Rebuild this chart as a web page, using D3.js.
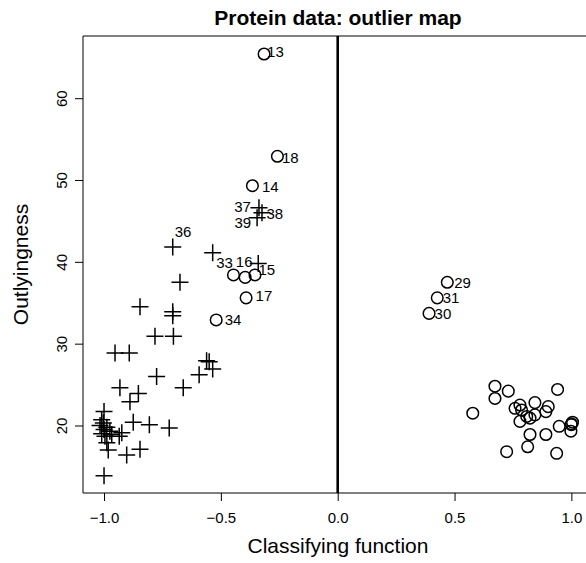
<!DOCTYPE html>
<html>
<head>
<meta charset="utf-8">
<script src="https://cdn.jsdelivr.net/npm/d3@7"></script>
<style>
  body { margin: 0; background: #fff; }
  svg text { font-family: "Liberation Sans", Arial, Helvetica, sans-serif; fill: #000; }
</style>
</head>
<body>
<div id="chart"></div>
<script>
// crosses (group 1)
var crossX = [-0.846, -0.706, -0.706, -0.782, -0.703, -0.675, -0.706, -0.535, -0.340,
              -0.337, -0.324, -0.345,
              -0.953, -0.892, -0.561, -0.550, -0.535, -0.593, -0.661, -0.775, -0.932,
              -0.853, -0.889, -0.875, -0.806, -0.721, -0.924, -0.935, -0.846, -0.903,
              -0.982, -1.000, -1.000, -1.010, -1.003, -1.017, -0.988, -1.000, -0.975,
              -1.010, -0.996, -0.988, -0.967];
var crossY = [34.5, 33.9, 33.4, 30.9, 30.9, 37.5, 41.8, 41.1, 39.8,
              46.6, 46.0, 45.4,
              28.85, 28.85, 27.9, 27.8, 26.9, 26.2, 24.6, 26.0, 24.6,
              23.9, 22.9, 20.4, 20.1, 19.7, 19.1, 18.7, 17.1, 16.4,
              17.0, 13.85, 21.7, 20.7, 20.3, 20.0, 19.8, 19.5, 19.3,
              19.0, 18.7, 17.9, 18.9];
var crossId = [null, null, null, null, null, null, "36", null, null,
               "37", "38", "39"];

// circles (group 2)
var circX = [-0.315, -0.258, -0.365, -0.446, -0.396, -0.354, -0.392, -0.520,
             0.469, 0.426, 0.391,
             0.578, 0.673, 0.673, 0.730, 0.941, 0.759, 0.780, 0.787, 0.844, 0.901,
             0.891, 0.809, 0.844, 0.780, 0.823, 0.948, 1.000, 1.005, 0.998, 0.823,
             0.891, 0.723, 0.813, 0.937, 1.000];
var circY = [65.4, 52.9, 49.3, 38.4, 38.1, 38.4, 35.6, 32.9,
             37.5, 35.6, 33.7,
             21.5, 24.8, 23.3, 24.2, 24.4, 22.1, 22.5, 21.9, 22.8, 22.3,
             21.7, 21.1, 21.3, 20.5, 20.9, 19.9, 20.1, 20.4, 19.3, 18.9,
             18.9, 16.8, 17.4, 16.6, 20.2];
var circId = ["13", "18", "14", "33", "16", "15", "17", "34", "29", "31", "30"];

var xTicks = [-1.0, -0.5, 0.0, 0.5, 1.0];
var yTicks = [20, 30, 40, 50, 60];

// where each label sits relative to its point: [dx, dy, anchor]
var labelNudge = {
    "13": [3, -2, "start"], "18": [4.5, 1.5, "start"], "14": [9.5, 1, "start"],
    "37": [-8, -1, "end"], "38": [4.5, 1, "start"], "39": [-6, 5, "end"],
    "36": [2, -15, "start"], "33": [-9, -12.5, "middle"], "16": [-1, -16, "middle"],
    "15": [3.5, -5, "start"], "17": [9.5, -2.5, "start"], "34": [8.5, 0, "start"],
    "29": [7, 0, "start"], "31": [5.5, 0, "start"], "30": [5.5, 0.5, "start"]
};

function draw() {
    var width = 586, height = 563;
    var plotLeft = 83, plotTop = 36, plotBottom = 493;

    var svg = d3.select("#chart").append("svg")
        .attr("width", width)
        .attr("height", height);

    svg.append("rect").attr("width", width).attr("height", height).attr("fill", "#fff");

    var x = d3.scaleLinear().domain([-1.09, 1.09]).range([plotLeft, 592.4]);
    var y = d3.scaleLinear().domain([11.75, 67.6]).range([plotBottom, plotTop]);

    // axes
    var xAxis = svg.append("g")
        .attr("transform", "translate(0," + plotBottom + ")")
        .call(d3.axisBottom(x).tickValues(xTicks).tickSize(8).tickFormat(d3.format(".1f")));
    xAxis.select(".domain").remove();
    xAxis.selectAll("text").attr("y", 30).attr("dy", 0).style("font-size", "15px");
    xAxis.selectAll("line").attr("stroke", "#000");

    var yAxis = svg.append("g")
        .attr("transform", "translate(" + plotLeft + ",0)")
        .call(d3.axisLeft(y).tickValues(yTicks).tickSize(8));
    yAxis.select(".domain").remove();
    yAxis.selectAll("line").attr("stroke", "#000");
    yAxis.selectAll("text")
        .attr("x", null).attr("dy", null)
        .attr("text-anchor", "middle")
        .attr("transform", "translate(-16,0) rotate(-90)")
        .style("font-size", "15px");

    // plot box (right edge runs past the picture)
    svg.append("path")
        .attr("d", "M" + (width + 10) + "," + plotTop + "H" + plotLeft + "V" + plotBottom + "H" + (width + 10))
        .attr("fill", "none")
        .attr("stroke", "#000")
        .attr("stroke-width", 1);

    // separating line at 0
    svg.append("line")
        .attr("x1", x(0)).attr("x2", x(0))
        .attr("y1", plotTop).attr("y2", plotBottom)
        .attr("stroke", "#000")
        .attr("stroke-width", 2.6);

    var crosses = crossX.map(function (d, i) { return {x: d, y: crossY[i], id: crossId[i] || null}; });
    var circles = circX.map(function (d, i) { return {x: d, y: circY[i], id: circId[i] || null}; });

    var arm = 8.5;
    svg.append("g").selectAll("path")
        .data(crosses)
        .enter().append("path")
        .attr("d", function (d) {
            var cx = x(d.x), cy = y(d.y);
            return "M" + (cx - arm) + "," + cy + "H" + (cx + arm) +
                   "M" + cx + "," + (cy - arm) + "V" + (cy + arm);
        })
        .attr("stroke", "#000")
        .attr("stroke-width", 1.5)
        .attr("fill", "none");

    svg.append("g").selectAll("circle")
        .data(circles)
        .enter().append("circle")
        .attr("cx", function (d) { return x(d.x); })
        .attr("cy", function (d) { return y(d.y); })
        .attr("r", 5.8)
        .attr("stroke", "#000")
        .attr("stroke-width", 1.5)
        .attr("fill", "none");

    var labelled = crosses.concat(circles).filter(function (d) { return d.id; });
    svg.append("g").selectAll("text")
        .data(labelled)
        .enter().append("text")
        .attr("x", function (d) { return x(d.x) + labelNudge[d.id][0]; })
        .attr("y", function (d) { return y(d.y) + labelNudge[d.id][1]; })
        .attr("dy", "0.35em")
        .attr("text-anchor", function (d) { return labelNudge[d.id][2]; })
        .style("font-size", "15px")
        .text(function (d) { return d.id; });

    // titles
    svg.append("text")
        .attr("x", 338).attr("y", 25)
        .attr("text-anchor", "middle")
        .style("font-size", "21px")
        .style("font-weight", "bold")
        .text("Protein data: outlier map");

    svg.append("text")
        .attr("x", 338).attr("y", 553)
        .attr("text-anchor", "middle")
        .style("font-size", "21px")
        .text("Classifying function");

    svg.append("text")
        .attr("transform", "translate(28," + ((plotTop + plotBottom) / 2) + ") rotate(-90)")
        .attr("text-anchor", "middle")
        .style("font-size", "21px")
        .text("Outlyingness");
}

draw();
</script>
</body>
</html>
